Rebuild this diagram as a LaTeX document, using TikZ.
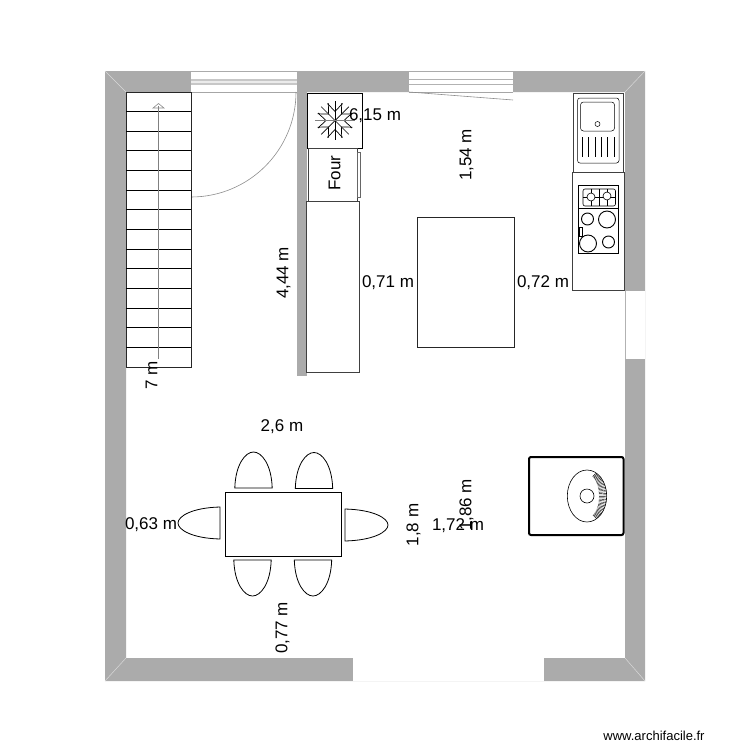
\documentclass[tikz,border=0pt]{standalone}
\usepackage{fontspec}
\setmainfont{Liberation Sans}
\tikzset{
  wallfill/.style={fill=wallgray, draw=none},
  meuble/.style={draw=black!75, fill=white, line width=1pt},
  trait/.style={draw=black, line width=0.9pt},
  chair/.style={draw=black, fill=white, line width=0.8pt},
  cote/.style={font=\fontsize{17}{18}\selectfont, inner sep=0pt},
  cotev/.style={cote, rotate=90},
}
\definecolor{wallgray}{HTML}{ABABAB}
\begin{document}
\begin{tikzpicture}[x=1pt, y=-1pt]
  \useasboundingbox (0,0) rectangle (750,750);
  % walls
  \fill[wallfill, even odd rule] (105,71) rectangle (645,681) (126,92) rectangle (625,658);
  \draw[white!85!black, line width=0.5pt] (105,71) -- (126,92) (645,71) -- (625,92) (105,681) -- (126,658) (645,681) -- (625,658);
  \fill[wallfill] (297,92) rectangle (307,376);
  % windows
  \fill[white] (191,72) rectangle (297,92);
  \fill[black!22] (191,79) rectangle (297,85);
  \fill[black!8] (191,81) rectangle (297,83);
  \fill[white] (409,72) rectangle (513,92);
  \foreach \wy in {79,84}
    \draw[black!30, line width=0.9pt] (409,\wy) -- (513,\wy);
  \foreach \xa/\xb in {191/297, 409/513}
    \draw[black!35, line width=1pt] (\xa,92) -- (\xb,92);
  \fill[white] (625,291) rectangle (645,359);
  \draw[black!30, line width=0.7pt] (625,291) -- (625,359);
  \fill[white] (353,658) rectangle (544,681);
  % doors
  \draw[black!45, line width=0.6pt] (296,92) arc (0:90:105);
  \draw[black!45, line width=0.6pt] (409,92) -- (513,100);
  % stairs
  \draw[meuble, draw=black!85] (126,92) rectangle (191,367);
  \foreach \i in {1,...,13}
    \draw[trait] (126,92+19.64*\i) -- (191,92+19.64*\i);
  \draw[black!50, line width=0.6pt] (158.5,106) -- (158.5,359);
  \draw[black!45, line width=0.6pt] (153,108) -- (158.5,103.5) -- (164,108) -- cycle;
  % fridge
  \draw[meuble, draw=black] (307,93) rectangle (362,148);
  \begin{scope}[shift={(335,120.5)}]
    \foreach \a in {0,45,...,315} {
      \draw[black, line width=0.7pt, rotate=\a] (0,0) -- (19.5,0);
      \draw[black, line width=0.7pt, rotate=\a] (17,-7.5) -- (9,0) -- (17,7.5);
    }
    \draw[black!50, line width=0.9pt] (-20,0) -- (20,0);
  \end{scope}
  % oven and counter
  \draw[meuble] (308,148) rectangle (357,201);
  \draw[black!60, line width=0.5pt, fill=white] (357,152) rectangle (360,197);
  \draw[meuble] (306,201) rectangle (359,372);
  % sink
  \draw[meuble] (573,93) rectangle (623,172);
  \draw[black, line width=0.5pt, rounded corners=2.5pt] (577.5,98) rectangle (619,163);
  \draw[black, line width=0.5pt, rounded corners=3pt] (580.5,102) rectangle (614.5,131);
  \draw[black, line width=0.5pt] (597.5,124) circle (2.5);
  \foreach \i in {0,...,5}
    \draw[black, line width=0.5pt] (582+6.4*\i,137) -- (582+6.4*\i,157);
  % cooker
  \draw[meuble] (572,172) rectangle (624,290);
  \draw[trait] (578,185) rectangle (618,253);
  \draw[trait] (578,208) -- (618,208);
  \draw[black, line width=0.6pt, rounded corners=2pt] (583,189) rectangle (615.5,206);
  \draw[black, line width=0.5pt] (599,189) -- (599,206) (591,189) -- (591,206) (607,189) -- (607,206) (583,197) -- (615.5,197);
  \draw[black, line width=0.6pt, fill=white] (591,197) circle (4);
  \draw[black, line width=0.6pt, fill=white] (607,196) circle (4);
  \foreach \cx/\cy/\r in {587.5/219/6, 607/219.5/8.5, 588/243.5/8.5, 608.5/242/6}
    \draw[trait] (\cx,\cy) circle (\r);
  \draw[black, line width=0.5pt] (579.5,227) rectangle (582,236);
  % island
  \draw[trait, black!85] (417,217) rectangle (514,347);
  % table and chairs
  \draw[trait] (225.5,492) rectangle (341.5,556.5);
  \foreach \cx/\cy/\ang/\w/\h in {253.5/488/0/18.7/36, 314/488.5/0/18.7/36, 252.5/560/180/18.7/36, 313/560/180/18.7/36, 220/523/90/16/42, 345/525/-90/16/43}
    \draw[chair, shift={(\cx,\cy)}, rotate=\ang] (-\w,0) .. controls (-\w+0.7,-0.66*\h) and (-0.43*\w,-\h) .. (0,-\h) .. controls (0.43*\w,-\h) and (\w-0.7,-0.66*\h) .. (\w,0) -- cycle;
  % rug
  \draw[draw=black, line width=2pt, rounded corners=2pt] (529,457) rectangle (623.5,535);
  \draw[trait, line width=0.6pt] (587,496) circle [x radius=19.7, y radius=26];
  \draw[trait, line width=0.6pt] (587,496) circle (7);
  \foreach \a in {-62,-58.5,...,62}
    \draw[black, line width=0.4pt] ({587+12*cos(\a)},{496+22*sin(\a)}) -- ({587+19.7*cos(\a)},{496+26*sin(\a)});
  % labels
  \node (four) [cotev] at (334.5,173) {Four};
  \node (l615) [cote] at (375,116) {6,15 m};
  \node (l154) [cotev] at (466.5,155) {1,54 m};
  \node (l444) [cotev] at (283.5,273) {4,44 m};
  \node (l071) [cote] at (388,283) {0,71 m};
  \node (l072) [cote] at (543,283) {0,72 m};
  \node (l7) [cotev] at (151.5,375) {7 m};
  \node (l26) [cote] at (282,427) {2,6 m};
  \node (l063) [cote] at (151,525) {0,63 m};
  \node (l18) [cotev] at (413.5,525) {1,8 m};
  \node (l186) [cotev] at (466.5,505) {1,86 m};
  \node (l172) [cote] at (458,526) {1,72 m};
  \node (l077) [cotev] at (282.5,628) {0,77 m};
  \node (site) [inner sep=0pt, font=\fontsize{13}{14}\selectfont] at (654,736) {www.archifacile.fr};
\end{tikzpicture}
\end{document}
